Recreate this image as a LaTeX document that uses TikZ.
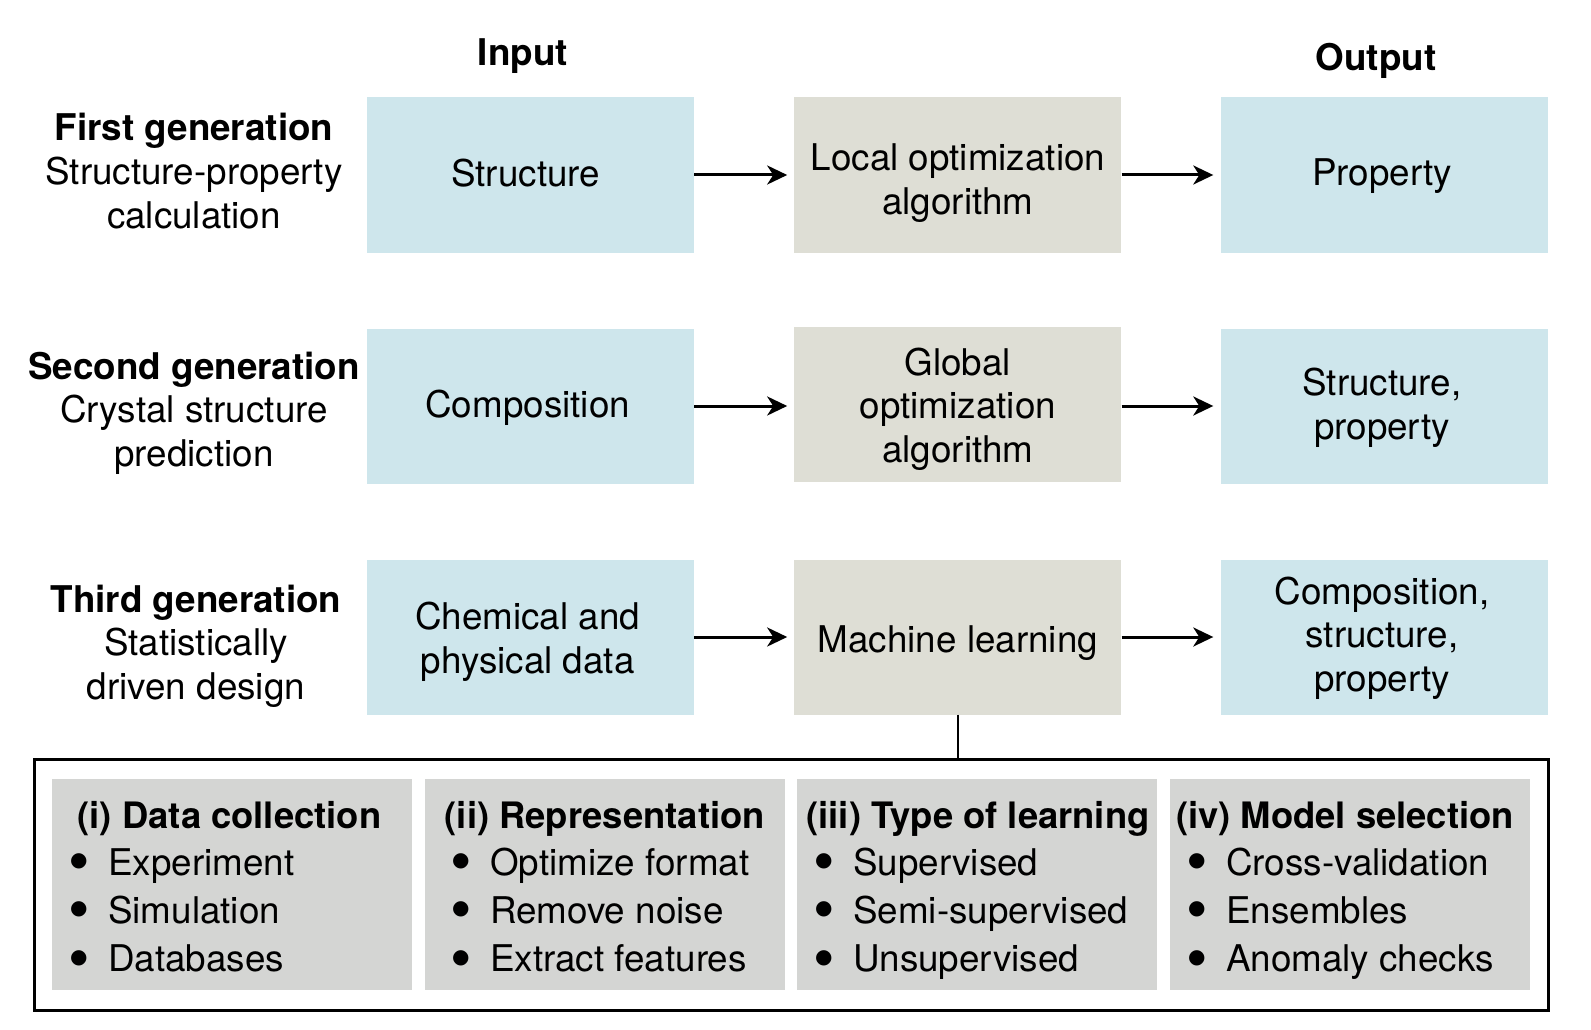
\documentclass[tikz,border=0pt]{standalone}
\usepackage{fontspec}
\setmainfont{TeX Gyre Heros}
\newfontfamily\dvs{DejaVu Sans}
\usetikzlibrary{arrows.meta}
\definecolor{inblue}{RGB}{206,230,236}
\definecolor{algo}{RGB}{222,222,213}
\definecolor{panel}{RGB}{212,213,211}
\newcommand{\bul}{\makebox[38pt][l]{\raisebox{8.5pt}{\dvs\fontsize{20}{20}\selectfont ●}}}
\begin{document}
\begin{tikzpicture}[x=1pt,y=-1pt,
  every node/.style={font=\fontsize{36.8}{43.6}\selectfont, inner sep=0pt},
  bluebox/.style={fill=inblue, minimum width=327pt, minimum height=155pt},
  algobox/.style={fill=algo, minimum width=327pt, minimum height=155pt},
  boxtext/.style={align=center},
  panelbox/.style={fill=panel, minimum width=360pt, minimum height=211pt},
  flow/.style={-{Stealth[length=20pt,width=19pt,inset=6pt]}, line width=3pt, shorten >=7pt},
  gen/.style={align=center},
  hdr/.style={font=\fontsize{36.8}{43.6}\selectfont\bfseries, anchor=base},
  ptitle/.style={font=\fontsize{36.4}{43.6}\selectfont\bfseries, anchor=base},
  item/.style={anchor=base west},
]
\fill[white] (0,0) rectangle (1591,1030);
\useasboundingbox (0,0) rectangle (1591,1030);

% headers
\node[hdr] (hin) at (523,66) {Input};
\node[hdr] (hout) at (1376,71) {Output};

% generation labels
\node[gen] (g1) at (194,171) {\textbf{First generation}\\Structure-property\\calculation};
\node[gen] (g2) at (194,413) {\textbf{Second generation}\\Crystal structure\\prediction};
\node[gen] (g3) at (196,646) {\textbf{Third generation}\\Statistically\\driven design};

% row 1
\node[bluebox] (in1) at (530.7,175) {};
\node[algobox] (al1) at (957.9,175) {};
\node[bluebox] (out1) at (1384,175) {};
% row 2
\node[bluebox] (in2) at (530.7,406) {};
\node[algobox] (al2) at (957.9,404) {};
\node[bluebox] (out2) at (1384,406) {};
% row 3
\node[bluebox] (in3) at (530.7,637) {};
\node[algobox] (al3) at (957.9,637) {};
\node[bluebox] (out3) at (1384,637) {};

% box texts
\node[boxtext, xshift=-5pt, yshift=2pt] (in1t) at (in1) {Structure};
\node[boxtext, yshift=-8pt] (al1t) at (al1) {Local optimization\\algorithm};
\node[boxtext, xshift=-2pt, yshift=-1pt] (out1t) at (out1) {Property};
\node[boxtext, xshift=-3pt, yshift=-2pt] (in2t) at (in2) {Composition};
\node[boxtext, yshift=-5pt] (al2t) at (al2) {Global\\optimization\\algorithm};
\node[boxtext, xshift=-2pt, yshift=-2pt] (out2t) at (out2) {Structure,\\property};
\node[boxtext, xshift=-3pt, yshift=-5pt] (in3t) at (in3) {Chemical and\\physical data};
\node[boxtext, yshift=-6pt] (al3t) at (al3) {Machine learning};
\node[boxtext, xshift=-2pt, yshift=-1pt] (out3t) at (out3) {Composition,\\structure,\\property};

% arrows
\draw[flow] (in1.east) -- (in1.east -| al1.west);
\draw[flow] (al1.east) -- (al1.east -| out1.west);
\draw[flow] (in2.east) -- (in2.east -| al2.west);
\draw[flow] (in2.east -| al2.east) -- (in2.east -| out2.west);
\draw[flow] (in3.east) -- (al3.west);
\draw[flow] (al3.east) -- (out3.west);

% bottom frame
\node[draw, line width=3pt, minimum width=1514pt, minimum height=251.6pt] (outer) at (791.5,884.8) {};
\draw[line width=2.6pt] (al3.south) -- (al3.south |- outer.north);

\node[panelbox] (p1) at (231.9,884.8) {};
\node[panelbox] (p2) at (604.8,884.8) {};
\node[panelbox] (p3) at (977.2,884.8) {};
\node[panelbox] (p4) at (1349.6,884.8) {};

\node[ptitle] (t1) at (229.5,828) {(i) Data collection};
\node[ptitle] (t2) at (604.8,828) {(ii) Representation};
\node[ptitle] (t3) at (978,828) {(iii) Type of learning};
\node[ptitle] (t4) at (1345,828) {(iv) Model selection};

\node[item] (a1) at (70,875) {\bul Experiment};
\node[item] (a2) at (70,923.3) {\bul Simulation};
\node[item] (a3) at (70,971.6) {\bul Databases};

\node[item] (b1) at (452,875) {\bul Optimize format};
\node[item] (b2) at (452,923.3) {\bul Remove noise};
\node[item] (b3) at (452,971.6) {\bul Extract features};

\node[item] (c1) at (815,875) {\bul Supervised};
\node[item] (c2) at (815,923.3) {\bul Semi-supervised};
\node[item] (c3) at (815,971.6) {\bul Unsupervised};

\node[item] (d1) at (1188,875) {\bul Cross-validation};
\node[item] (d2) at (1188,923.3) {\bul Ensembles};
\node[item] (d3) at (1188,971.6) {\bul Anomaly checks};
\end{tikzpicture}
\end{document}
